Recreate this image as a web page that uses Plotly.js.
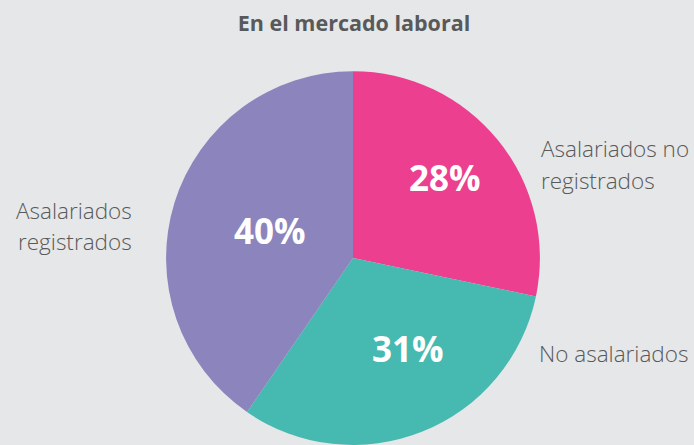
<!DOCTYPE html>
<html>
<head>
<meta charset="utf-8">
<script src="https://cdn.plot.ly/plotly-3.0.1.min.js"></script>
<style>
html,body{margin:0;padding:0;background:#e6e7e8;overflow:hidden;}
#chart{width:694px;height:445px;}
</style>
</head>
<body>
<div id="chart"></div>
<script>
const categories = ["Asalariados no registrados", "No asalariados", "Asalariados registrados"];
const values = [28, 31, 40];
const colors = ["#ec3f8f", "#46b9b1", "#8c84bd"];
const labelLines = [["Asalariados no", "registrados"], ["No asalariados"], ["Asalariados", "registrados"]];

const W = 694, H = 445;
const px = x => x / W;
const py = y => 1 - y / H;

const trace = {
  type: "pie",
  labels: categories,
  values: values,
  sort: false,
  direction: "clockwise",
  rotation: 0,
  marker: {colors: colors, line: {width: 0}},
  textinfo: "none",
  hoverinfo: "none",
  showlegend: false,
  domain: {x: [px(353 - 187), px(353 + 187)], y: [0, 0.84]}
};

const pctPos = [[445, 177], [408, 348], [270, 230]];
const annotations = [];
values.forEach((v, i) => {
  annotations.push({
    xref: "paper", yref: "paper", x: px(pctPos[i][0]), y: py(pctPos[i][1]),
    text: "<b>" + v + "%</b>", showarrow: false, xanchor: "center", yanchor: "middle",
    font: {family: "Open Sans, sans-serif", size: 35, color: "#ffffff"}
  });
});

const labelFont = {family: "Open Sans, sans-serif", size: 22.5, color: "#58595b", weight: 300};
// right labels (left aligned)
[[539, 148, labelLines[0][0]], [539, 180, labelLines[0][1]], [537, 353, labelLines[1][0]]].forEach(a => {
  annotations.push({xref: "paper", yref: "paper", x: px(a[0]), y: py(a[1]), text: a[2],
    showarrow: false, xanchor: "left", yanchor: "middle", font: labelFont});
});
// left labels (right aligned)
[[134, 210, labelLines[2][0]], [134, 241, labelLines[2][1]]].forEach(a => {
  annotations.push({xref: "paper", yref: "paper", x: px(a[0]), y: py(a[1]), text: a[2],
    showarrow: false, xanchor: "right", yanchor: "middle", font: labelFont});
});

const layout = {
  width: W, height: H,
  margin: {l: 0, r: 0, t: 0, b: 0},
  paper_bgcolor: "#e6e7e8",
  plot_bgcolor: "#e6e7e8",
  title: {text: "<b>En el mercado laboral</b>", x: px(354), xanchor: "center", y: py(23), yanchor: "middle",
    font: {family: "Open Sans, sans-serif", size: 21.5, color: "#58595b"}},
  annotations: annotations
};

Plotly.newPlot("chart", [trace], layout, {displayModeBar: false, staticPlot: true});
</script>
</body>
</html>
